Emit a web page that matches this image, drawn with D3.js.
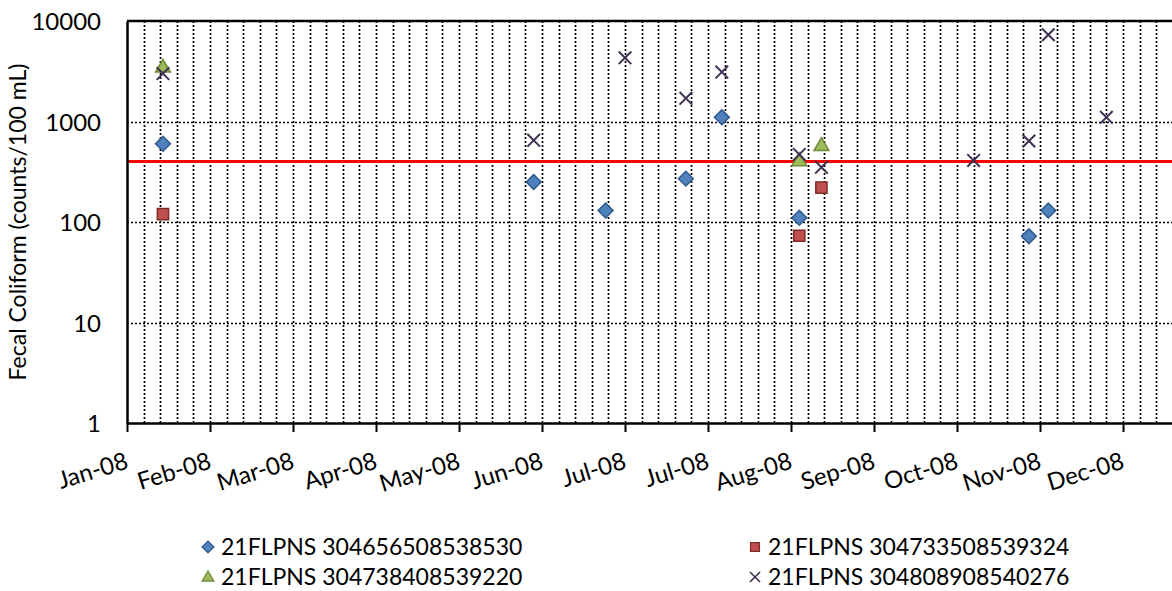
<!DOCTYPE html>
<html><head><meta charset="utf-8">
<script src="https://cdn.jsdelivr.net/npm/d3@7"></script>
<style>
html,body{margin:0;padding:0;background:#fff;}
svg{display:block;font-family:Lato, "Open Sans", sans-serif;}
</style></head>
<body><svg id="c" width="1172" height="591"></svg>
<script>
// ---- data ----
const seriesNames = ["21FLPNS 304656508538530","21FLPNS 304733508539324","21FLPNS 304738408539220","21FLPNS 304808908540276"];
const s1Dates = ["2008-01-16","2008-05-29","2008-06-24","2008-07-23","2008-08-05","2008-09-02","2008-11-24","2008-12-01"];
const s1Values = [600,250,130,270,1100,110,72,130];
const s2Dates = ["2008-01-16","2008-09-02","2008-09-10"];
const s2Values = [120,73,220];
const s3Dates = ["2008-01-16","2008-09-02","2008-09-10"];
const s3Values = [3500,410,580];
const s4Dates = ["2008-01-16","2008-05-29","2008-07-01","2008-07-23","2008-08-05","2008-09-02","2008-09-10","2008-11-04","2008-11-24","2008-12-01","2008-12-22"];
const s4Values = [3000,650,4300,1700,3100,470,350,410,640,7300,1100];
const standardValue = 400;
const xTickLabels = ["Jan-08","Feb-08","Mar-08","Apr-08","May-08","Jun-08","Jul-08","Jul-08","Aug-08","Sep-08","Oct-08","Nov-08","Dec-08"];
const yTickValues = [1,10,100,1000,10000];
const yTitle = "Fecal Coliform (counts/100 mL)";
const xStartStr = "2008-01-03", xEndStr = "2009-01-18";

// ---- layout ----
const parse = d3.timeParse("%Y-%m-%d");
const xStart = parse(xStartStr), xEnd = parse(xEndStr);
const L = 127, T = 21, B = 423;
const x = d3.scaleTime().domain([xStart, xEnd]).range([L, L + 381 * (996/360)]);
const y = d3.scaleLog().domain([1, 10000]).range([B, T]);
const svg = d3.select("#c");

// gridlines
const minor = d3.range(6, 381, 6).map(d => d3.timeDay.offset(xStart, d));
const major = d3.range(0, 361, 30).map(d => d3.timeDay.offset(xStart, d));
const grid = svg.append("g").attr("stroke", "#000").attr("stroke-width", 1.7).attr("stroke-dasharray", "2,2");
grid.selectAll("line.v").data(minor).join("line").attr("class","v")
  .attr("x1", d => Math.round(x(d))+0.5).attr("x2", d => Math.round(x(d))+0.5).attr("y1", T).attr("y2", B);
grid.selectAll("line.h").data([10,100,1000]).join("line").attr("class","h")
  .attr("x1", L).attr("x2", 1172).attr("y1", d => Math.round(y(d))+0.5).attr("y2", d => Math.round(y(d))+0.5);

// top border
svg.append("line").attr("x1", L).attr("x2", 1172).attr("y1", T).attr("y2", T).attr("stroke","#000").attr("stroke-width",2.5);

// standard line
svg.append("line").attr("x1", L).attr("x2", 1172).attr("y1", y(standardValue)).attr("y2", y(standardValue))
  .attr("stroke", "#FF0000").attr("stroke-width", 3);

// x axis
const xAxis = svg.append("g").attr("transform", `translate(0,${B})`)
  .call(d3.axisBottom(x).tickValues(major).tickSize(9).tickSizeOuter(0).tickFormat((d,i) => xTickLabels[i]));
xAxis.select(".domain").attr("stroke-width", 2.5);
xAxis.selectAll(".tick line").attr("stroke-width", 2);
xAxis.selectAll(".tick text").attr("y", null).attr("dy", null)
  .attr("text-anchor", "end").attr("font-size", 24).attr("fill", "#000")
  .attr("font-family", "Lato")
  .attr("transform", "translate(2,45) rotate(-17)");

// y axis
const yAxis = svg.append("g").attr("transform", `translate(${L},0)`)
  .call(d3.axisLeft(y).tickValues(yTickValues).tickSize(0).tickPadding(26).tickFormat(d3.format("d")));
yAxis.select(".domain").attr("stroke-width", 2.5);
yAxis.selectAll(".tick text").attr("font-size", 24).attr("fill", "#000").attr("font-family", "Lato").attr("dy", "0.36em");

svg.append("text").attr("transform", `translate(26,222) rotate(-90)`).attr("text-anchor","middle")
  .attr("font-size", 23).attr("font-family","Lato").text(yTitle);

// markers
const styles = [
  {type: "diamond", fill: "#4F81BD", stroke: "#2F5A8C"},
  {type: "square", fill: "#C0504D", stroke: "#7E2A27"},
  {type: "triangle", fill: "#9BBB59", stroke: "#6E8A3A"},
  {type: "x", fill: "none", stroke: "#403152"}
];
function markerPath(t) {
  if (t === "diamond") return d3.symbol(d3.symbolSquare, 110)();
  if (t === "square") return d3.symbol(d3.symbolSquare, 125)();
  if (t === "triangle") return d3.symbol(d3.symbolTriangle, 95)();
  return d3.symbol(d3.symbolTimes, 105)();
}
function drawMarker(g, t, st, cx, cy) {
  const rot = t === "diamond" ? " rotate(45)" : "";
  const dy = t === "triangle" ? 1 : 0;
  g.append("path").attr("d", markerPath(t))
    .attr("transform", `translate(${cx},${cy+dy})${rot}`)
    .attr("fill", st.fill).attr("stroke", st.stroke)
    .attr("stroke-width", t === "x" ? 2 : 1.5);
}
const allSeries = [[s1Dates,s1Values],[s2Dates,s2Values],[s3Dates,s3Values],[s4Dates,s4Values]];
const mg = svg.append("g");
allSeries.forEach(([ds, vs], i) => {
  ds.forEach((d, j) => drawMarker(mg, styles[i].type, styles[i], x(parse(d)), y(vs[j])));
});

// legend
const legendPos = [[208,547],[755,547],[208,577],[755,577]];
const lg = svg.append("g");
seriesNames.forEach((n, i) => {
  const [lx, ly] = legendPos[i];
  const g = lg.append("g").attr("transform", `translate(${lx},${ly}) scale(0.8)`);
  drawMarker(g, styles[i].type, styles[i], 0, 0);
  lg.append("text").attr("x", lx + 13).attr("y", ly).attr("dy", "0.36em")
    .attr("font-size", 23).attr("font-family","Lato").text(n);
});
</script></body></html>
